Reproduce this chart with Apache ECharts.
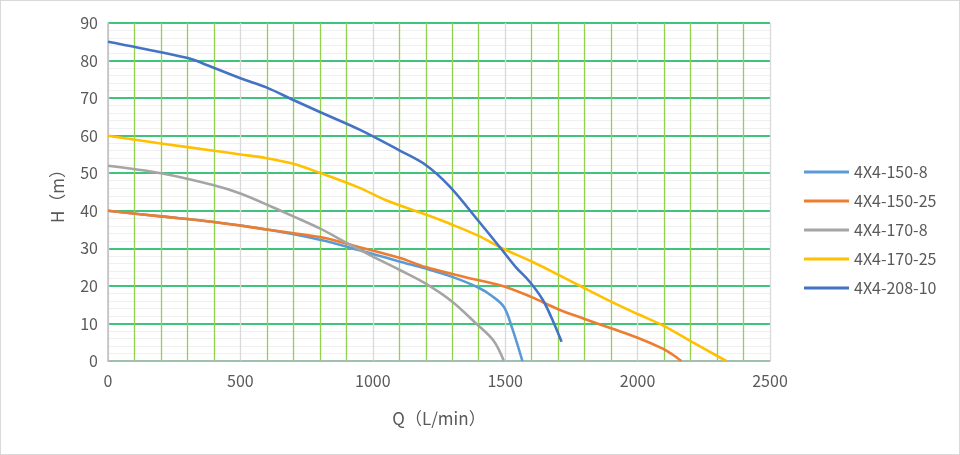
<!DOCTYPE html>
<html>
<head>
    <meta charset="utf-8">
    <title>4X4 泵性能曲线</title>
    <script src="https://cdn.jsdelivr.net/npm/echarts@6/dist/echarts.min.js"></script>
    <style>
        html, body { margin: 0; padding: 0; background: #fff; }
        #chart { width: 958px; height: 453px; border: 1px solid #d9d9d9; }
    </style>
</head>
<body>
    <div id="chart"></div>
    <script type="text/javascript">
        // 曲线数据 [Q, H]
        var names = ['4X4-150-8', '4X4-150-25', '4X4-170-8', '4X4-170-25', '4X4-208-10'];
        var colors = ['#5B9BD5', '#ED7D31', '#A5A5A5', '#FFC000', '#4472C4'];

        var s150_8 = [[0, 40], [200, 38.5], [400, 37], [600, 35], [800, 32.3], [950, 29.5], [1100, 26.5],
            [1200, 24.6], [1300, 22.4], [1400, 19.5], [1450, 17.3], [1495, 14.4], [1525, 9], [1565, 0]];
        var s150_25 = [[0, 40], [200, 38.5], [400, 37], [600, 35], [800, 33], [950, 30.3], [1100, 27.5],
            [1200, 25], [1350, 22.3], [1490, 20], [1600, 17], [1700, 13.8], [1800, 11.2], [1900, 8.7],
            [2000, 6.2], [2095, 3.3], [2130, 1.8], [2165, 0]];
        var s170_8 = [[0, 52], [200, 50], [400, 46.8], [500, 44.6], [620, 41], [700, 38.5], [800, 35.3],
            [900, 31.5], [1000, 27.8], [1100, 24.3], [1200, 20.6], [1300, 15.8],
            [1390, 10], [1455, 5.5], [1495, 0]];
        var s170_25 = [[0, 60], [200, 57.9], [400, 56], [500, 55], [600, 54], [700, 52.5], [800, 50.1],
            [950, 46.1], [1050, 42.8], [1200, 39], [1300, 36.3], [1400, 33.3], [1480, 30.3],
            [1600, 26.5], [1700, 23], [1780, 20.1], [1900, 15.8], [2000, 12.5], [2095, 9.5],
            [2200, 5.3], [2335, 0]];
        var s208_10 = [[0, 85], [200, 82.2], [320, 80.3], [370, 78.9], [500, 75.3], [600, 72.8], [700, 69.5],
            [800, 66.3], [950, 61.6], [1100, 56.1], [1200, 52.2], [1290, 46.5], [1400, 37.2],
            [1480, 30.3], [1540, 25], [1590, 21.3], [1640, 16.5], [1675, 11.5], [1713, 5.1]];
        var seriesData = [s150_8, s150_25, s170_8, s170_25, s208_10];

        var xTicks = { min: 0, max: 2500, interval: 500 };
        var yTicks = { min: 0, max: 90, interval: 10 };

        var chart = echarts.init(document.getElementById('chart'));

        var series = [];
        for (var i = 0; i < names.length; i++) {
            series.push({
                name: names[i],
                type: 'line',
                data: seriesData[i],
                smooth: 0.35,
                showSymbol: false,
                lineStyle: { color: colors[i], width: 2.6 },
                itemStyle: { color: colors[i] }
            });
        }

        var option = {
            animation: false,
            color: colors,
            grid: { left: 107, right: 189, top: 22, bottom: 93 },
            legend: {
                orient: 'vertical',
                left: 798,
                top: 158,
                itemWidth: 45,
                itemHeight: 3,
                itemGap: 13,
                icon: 'rect',
                textStyle: { color: '#595959', fontSize: 16, fontFamily: 'Noto Sans CJK SC' },
                data: names
            },
            xAxis: {
                type: 'value',
                min: xTicks.min, max: xTicks.max, interval: xTicks.interval,
                name: 'Q（L/min）',
                nameLocation: 'middle',
                nameGap: 49,
                nameTextStyle: { color: '#595959', fontSize: 17, fontFamily: 'Noto Sans CJK SC' },
                axisLine: { show: true, lineStyle: { color: '#BFBFBF', width: 1.5 } },
                axisTick: { show: false },
                axisLabel: {
                    color: '#595959', fontSize: 16, fontFamily: 'Noto Sans CJK SC', margin: 12,
                    formatter: function (v) { return String(v); }
                },
                splitLine: { show: true, lineStyle: { color: '#D9D9D9', width: 1.3 } },
                minorTick: { show: false, splitNumber: 5 },
                minorSplitLine: { show: true, lineStyle: { color: '#92D050', width: 1.3 } }
            },
            yAxis: {
                type: 'value',
                min: yTicks.min, max: yTicks.max, interval: yTicks.interval,
                name: 'H（m）',
                nameLocation: 'middle',
                nameGap: 42,
                nameRotate: 90,
                nameTextStyle: { color: '#595959', fontSize: 17, fontFamily: 'Noto Sans CJK SC' },
                axisLine: { show: true, lineStyle: { color: '#BFBFBF', width: 1.5 } },
                axisTick: { show: false },
                axisLabel: { color: '#595959', fontSize: 16, fontFamily: 'Noto Sans CJK SC', margin: 10 },
                splitLine: { show: true, lineStyle: { color: '#00B050', width: 1.5 } },
                minorTick: { show: false, splitNumber: 5 },
                minorSplitLine: { show: true, lineStyle: { color: '#F0F0F0', width: 1 } }
            },
            series: series
        };
        chart.setOption(option);
    </script>
</body>
</html>
